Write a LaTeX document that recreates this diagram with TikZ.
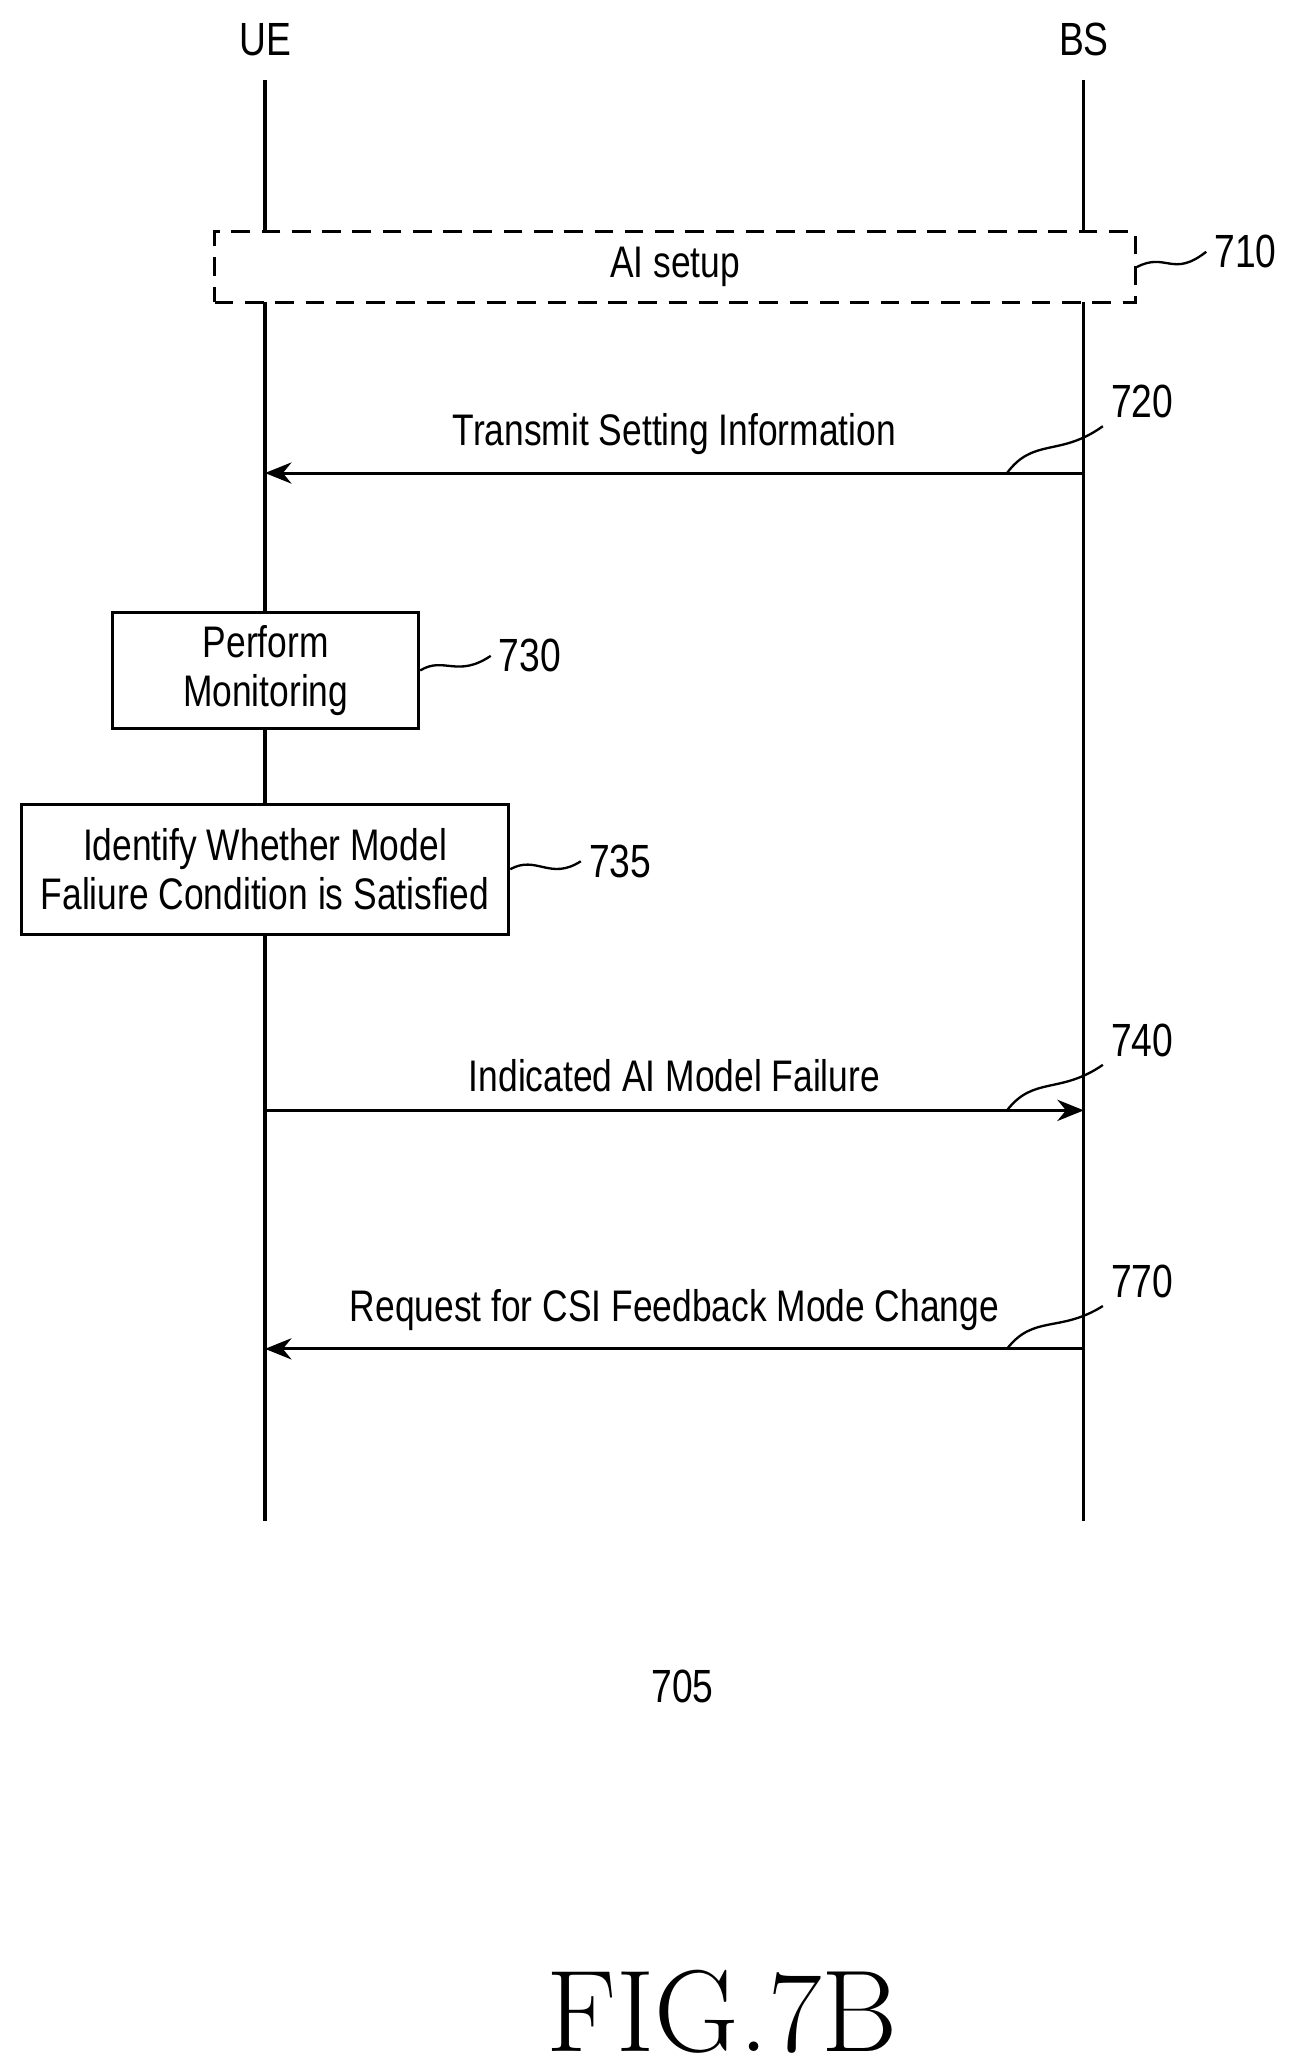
\documentclass[tikz,border=0pt]{standalone}
\usepackage{fontspec}
\setsansfont{Liberation Sans}[FakeStretch=0.8]
\usetikzlibrary{arrows.meta,positioning,calc}
\tikzset{
    % Lifeline labels and lines
    entity/.style={font=\fontsize{20}{22}\selectfont\sffamily},
    lifeline/.style={line width=1.3pt},
    % Process boxes
    proc box/.style={draw, line width=1.3pt, align=center, inner sep=0pt,
        font=\fontsize{19}{21}\selectfont\sffamily},
    % Messages
    msg/.style={-{Stealth[length=4mm, width=3.2mm]}, line width=1.3pt},
    msg text/.style={font=\fontsize{19}{22}\selectfont\sffamily, above},
    % Reference numerals
    refnum/.style={font=\fontsize{20}{22}\selectfont\sffamily},
    lead/.style={line width=1pt}
}
\begin{document}
\begin{tikzpicture}[x=0.02cm, y=-0.02cm]
    \useasboundingbox (0,0) rectangle (975,1560);

    % Lifelines
    \node[entity] (ue) at (200,30) {UE};
    \node[entity] (bs) at (818,30) {BS};
    \coordinate (ueend) at (200,1148);
    \coordinate (bsend) at (818,1148);
    \draw[lifeline] (200,60) -- (ueend);
    \draw[lifeline] (818,60) -- (bsend);

    % AI setup
    \node[proc box, dashed, dash pattern=on 8pt off 5pt, fill=white, minimum width=13.9cm, minimum height=1.06cm] (setup) at (509.5,201.5) {AI setup};
    \node[refnum] (n710) at (940,190) {710};
    \draw[lead] (setup.east) .. controls (880,190) and (885,210) .. (n710.west);

    % Transmit setting information
    \draw[msg] (818,357) -- node[msg text, yshift=4pt] (m720) {Transmit Setting Information} (200,357);
    \node[refnum] (n720) at (862,303) {720};
    \draw[lead] (760,357) .. controls (780,330) and (800,345) .. (n720.south west);

    % Monitoring
    \node[proc box, fill=white, minimum width=4.62cm, minimum height=1.76cm] (mon) at (200.5,506) {Perform\\Monitoring};
    \node[refnum] (n730) at (400,495) {730};
    \draw[lead] (mon.east) .. controls (335,495) and (345,512) .. (n730.west);

    % Failure condition
    \node[proc box, fill=white, minimum width=7.36cm, minimum height=1.96cm] (fail) at (200,656) {Identify Whether Model\\Faliure Condition is Satisfied};
    \node[refnum] (n735) at (468,650) {735};
    \draw[lead] (fail.east) .. controls (405,645) and (415,665) .. (n735.west);

    % Model failure indication
    \draw[msg] (200,838) -- node[msg text, yshift=4pt] (m740) {Indicated AI Model Failure} (818,838);
    \node[refnum] (n740) at (862,785) {740};
    \draw[lead] (760,838) .. controls (780,812) and (800,826) .. (n740.south west);

    % Mode change request
    \draw[msg] (818,1018) -- node[msg text, yshift=4pt] (m770) {Request for CSI Feedback Mode Change} (200,1018);
    \node[refnum] (n770) at (862,967) {770};
    \draw[lead] (760,1018) .. controls (780,992) and (800,1006) .. (n770.south west);

    % Captions
    \node[refnum] (n705) at (515,1273) {705};
    \node[font=\fontsize{50}{52}\selectfont\rmfamily] (fig) at (545,1518) {FIG.7B};
\end{tikzpicture}
\end{document}
